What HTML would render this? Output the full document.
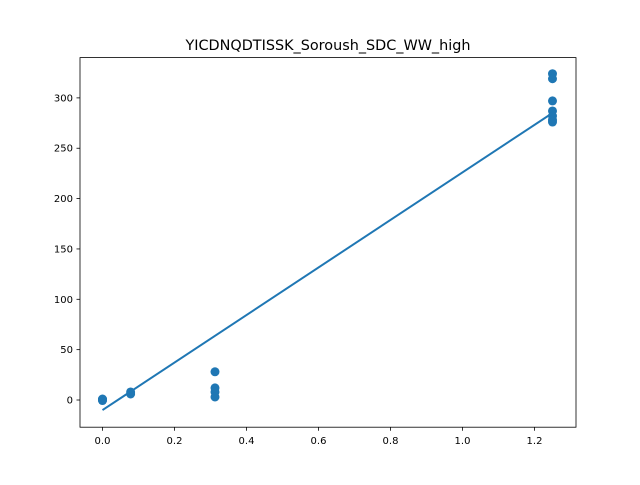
<!DOCTYPE html>
<html><head><meta charset="utf-8"><style>
body{margin:0;background:#fff;font-family:"Liberation Sans","DejaVu Sans",sans-serif}
svg text{font-family:"DejaVu Sans","Liberation Sans",sans-serif}
</style></head><body>
<svg id="chart" width="640" height="480" xmlns="http://www.w3.org/2000/svg">
<rect width="640" height="480" fill="#fff"/>
<text x="328" y="50" text-anchor="middle" font-size="14.4">YICDNQDTISSK_Soroush_SDC_WW_high</text>
<g id="marks"></g>
<g id="axes"></g>
<rect x="80" y="57.6" width="496" height="369.6" fill="none" stroke="#000" stroke-width="0.8"/>
</svg>
<script>
const xs = [0,0,0,0,0,0.078125,0.078125,0.3125,0.3125,0.3125,0.3125,1.25,1.25,1.25,1.25,1.25,1.25,1.25];
const ys = [0,0.5,1,-0.5,0.2,8,6,28,12,8,3,324,319,297,287,282,278,276];
const fitX = [0,1.25];
const fitY = [-10,285];
const xTicks = [0,0.2,0.4,0.6,0.8,1.0,1.2];
const xTickLabels = ["0.0","0.2","0.4","0.6","0.8","1.0","1.2"];
const yTicks = [0,50,100,150,200,250,300];
const xmin=-0.0625,xmax=1.3153,ymin=-27,ymax=340;
const L=80,R=576,T=57.6,B=427.2;
const sx=v=>L+(v-xmin)/(xmax-xmin)*(R-L);
const sy=v=>B-(v-ymin)/(ymax-ymin)*(B-T);
const NS="http://www.w3.org/2000/svg";
const marks=document.getElementById('marks'),axes=document.getElementById('axes');
function mk(tag,attrs,parent){const e=document.createElementNS(NS,tag);for(const k in attrs)e.setAttribute(k,attrs[k]);parent.appendChild(e);return e;}
xs.forEach((x,i)=>{
 const c=mk('circle',{cx:sx(x),cy:sy(ys[i]),r:4.5,fill:'#1f77b4'},marks);
 
 
});
const ln=mk('line',{x1:sx(fitX[0]),y1:sy(fitY[0]),x2:sx(fitX[1]),y2:sy(fitY[1]),stroke:'#1f77b4','stroke-width':2},marks);


xTicks.forEach((t,i)=>{
 const x=sx(t);
 mk('line',{x1:x,y1:B,x2:x,y2:B+3.5,stroke:'#000','stroke-width':0.8},axes);
 const tx=mk('text',{x:x,y:B+17,'text-anchor':'middle','font-size':10},axes);
 tx.textContent=xTickLabels[i];
 
 
});
yTicks.forEach(t=>{
 const y=sy(t);
 mk('line',{x1:L,y1:y,x2:L-3.5,y2:y,stroke:'#000','stroke-width':0.8},axes);
 const tx=mk('text',{x:L-7,y:y+3.5,'text-anchor':'end','font-size':10},axes);
 tx.textContent=String(t);
 
 
});
</script>
</body></html>
